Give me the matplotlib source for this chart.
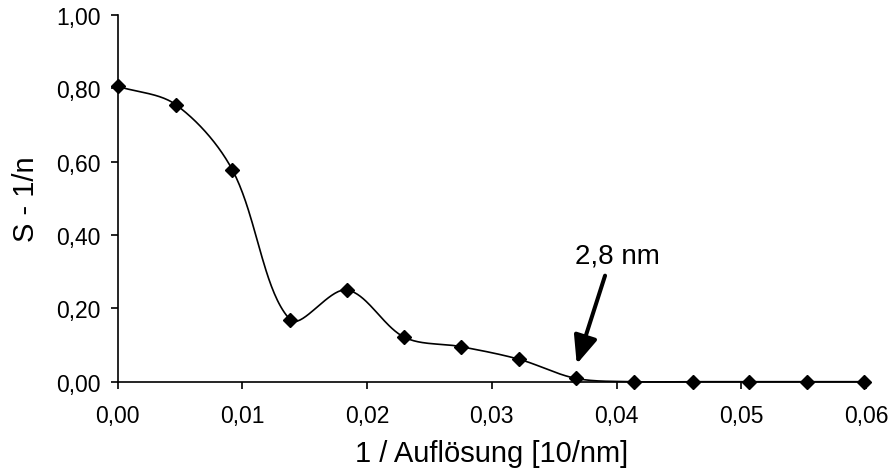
import numpy as np
import matplotlib.pyplot as plt
from matplotlib.ticker import FuncFormatter

# values
x_vals = [0.0, 0.00467, 0.00921, 0.01384, 0.01838, 0.0230, 0.02755,
          0.0322, 0.03675, 0.0414, 0.0461, 0.0506, 0.0553, 0.0598]
y_vals = [0.805, 0.755, 0.577, 0.169, 0.250, 0.121, 0.0954,
          0.061, 0.009, 0.0, 0.0, 0.0, 0.0, 0.0]
x_ticks = [0.0, 0.01, 0.02, 0.03, 0.04, 0.05, 0.06]
y_ticks = [0.0, 0.2, 0.4, 0.6, 0.8, 1.0]
annot_text = '2,8 nm'
annot_tip = (0.03681, 0.048)
annot_tail = (0.03908, 0.289)
annot_text_pos = (0.0401, 0.345)

plt.rcParams['font.family'] = ['Liberation Sans', 'DejaVu Sans']

fig = plt.figure(figsize=(8.93, 4.77), dpi=100)
ax = fig.add_axes([0.1316, 0.1977, 0.9698 - 0.1316, 0.967 - 0.1977])


def smooth_curve(xs, ys, sx=748 / 0.06, sy=367.0, n=40):
    # Excel-like smoothed line: cubic Bezier segments, tangents weighted by segment length
    P = np.column_stack([np.asarray(xs) * sx, np.asarray(ys) * sy])
    out = [P[0]]
    for i in range(len(P) - 1):
        p0 = P[i - 1] if i > 0 else P[i]
        p1, p2 = P[i], P[i + 1]
        p3 = P[i + 2] if i + 2 < len(P) else P[i + 1]
        d1 = np.linalg.norm(p1 - p0)
        d2 = np.linalg.norm(p2 - p1)
        d3 = np.linalg.norm(p3 - p2)
        c1 = p1 + (p2 - p0) * (d2 / (d1 + d2) if d1 + d2 else 0) / 2 * 0.66 if i > 0 else p1 + (p2 - p1) / 3
        c2 = p2 - (p3 - p1) * (d2 / (d2 + d3) if d2 + d3 else 0) / 2 * 0.66 if i + 2 < len(P) else p2 - (p2 - p1) / 3
        t = np.linspace(0, 1, n)[1:, None]
        seg = ((1 - t) ** 3) * p1 + 3 * ((1 - t) ** 2) * t * c1 + 3 * (1 - t) * t ** 2 * c2 + t ** 3 * p2
        out.extend(seg)
    out = np.array(out)
    return out[:, 0] / sx, out[:, 1] / sy


cx, cy = smooth_curve(x_vals, y_vals)
ax.plot(cx, cy, color='black', lw=1.2, zorder=3, clip_on=False)
ax.plot(x_vals, y_vals, linestyle='none', marker='D', color='black',
        markersize=7.5, zorder=4, clip_on=False)

# arrow + label
ax.annotate('', xy=annot_tip, xytext=annot_tail,
            arrowprops=dict(arrowstyle='-|>,head_length=0.85,head_width=0.36',
                            color='black', lw=2.9, shrinkA=0, shrinkB=0,
                            mutation_scale=20))
ax.text(*annot_text_pos, annot_text, ha='center', va='center', fontsize=20)

ax.set_xlim(0, 0.06)
ax.set_ylim(0, 1.0)
ax.set_xticks(x_ticks)
ax.set_yticks(y_ticks)
ax.xaxis.set_major_formatter(FuncFormatter(lambda v, p: f'{v:.2f}'.replace('.', ',')))
ax.yaxis.set_major_formatter(FuncFormatter(lambda v, p: f'{v:.2f}'.replace('.', ',')))
ax.tick_params(axis='both', direction='out', length=5, width=1.2, labelsize=16.5)
ax.tick_params(axis='y', pad=7)
ax.tick_params(axis='x', pad=11)

for side in ['top', 'right']:
    ax.spines[side].set_visible(False)
for side in ['left', 'bottom']:
    ax.spines[side].set_linewidth(1.2)

ax.set_xlabel('1 / Auflösung [10/nm]', fontsize=21, labelpad=9)
ax.set_ylabel('S - 1/n', fontsize=21, labelpad=12)

fig.savefig('out.png', dpi=100)
